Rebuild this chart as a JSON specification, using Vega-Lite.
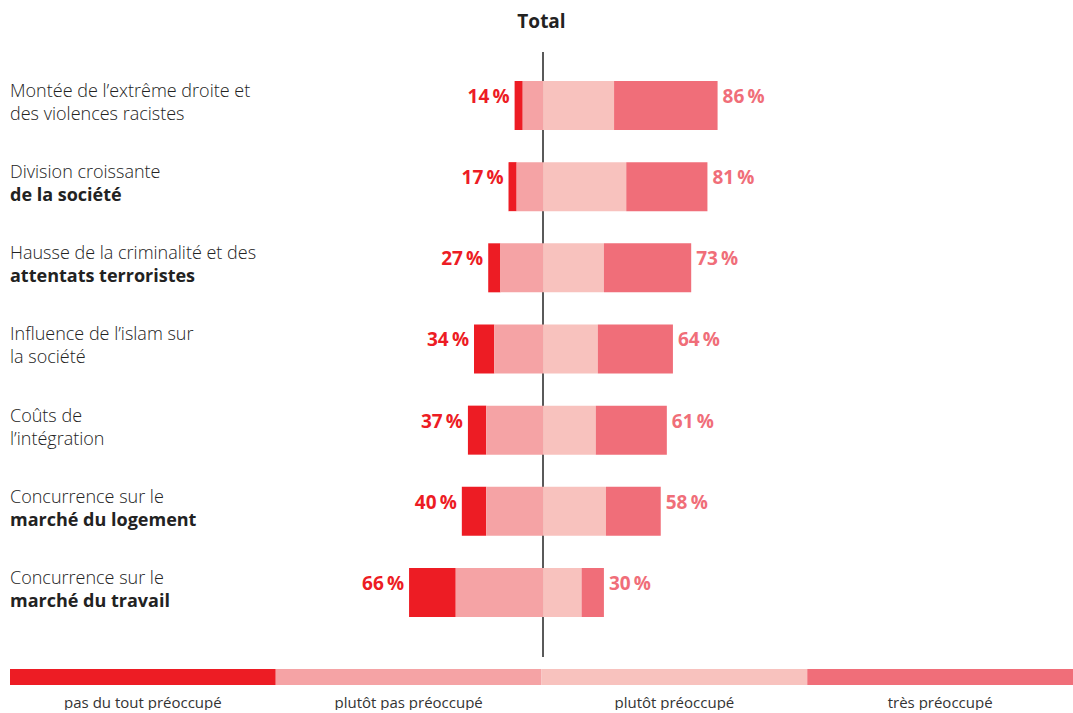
{
  "$schema": "https://vega.github.io/schema/vega-lite/v6.json",
  "padding": {"left": 10, "top": 13, "right": 0, "bottom": 0},
  "background": "white",
  "config": {"view": {"stroke": null}, "font": "Open Sans", "concat": {"spacing": 11}},
  "datasets": {
    "bars": [
      {"item": "droite", "cat": "pas du tout préoccupé", "share": -4},
      {"item": "droite", "cat": "plutôt pas préoccupé", "share": -10},
      {"item": "droite", "cat": "plutôt préoccupé", "share": 35},
      {"item": "droite", "cat": "très préoccupé", "share": 51},
      {"item": "division", "cat": "pas du tout préoccupé", "share": -4},
      {"item": "division", "cat": "plutôt pas préoccupé", "share": -13},
      {"item": "division", "cat": "plutôt préoccupé", "share": 41},
      {"item": "division", "cat": "très préoccupé", "share": 40},
      {"item": "criminalite", "cat": "pas du tout préoccupé", "share": -6},
      {"item": "criminalite", "cat": "plutôt pas préoccupé", "share": -21},
      {"item": "criminalite", "cat": "plutôt préoccupé", "share": 30},
      {"item": "criminalite", "cat": "très préoccupé", "share": 43},
      {"item": "islam", "cat": "pas du tout préoccupé", "share": -10},
      {"item": "islam", "cat": "plutôt pas préoccupé", "share": -24},
      {"item": "islam", "cat": "plutôt préoccupé", "share": 27},
      {"item": "islam", "cat": "très préoccupé", "share": 37},
      {"item": "couts", "cat": "pas du tout préoccupé", "share": -9},
      {"item": "couts", "cat": "plutôt pas préoccupé", "share": -28},
      {"item": "couts", "cat": "plutôt préoccupé", "share": 26},
      {"item": "couts", "cat": "très préoccupé", "share": 35},
      {"item": "logement", "cat": "pas du tout préoccupé", "share": -12},
      {"item": "logement", "cat": "plutôt pas préoccupé", "share": -28},
      {"item": "logement", "cat": "plutôt préoccupé", "share": 31},
      {"item": "logement", "cat": "très préoccupé", "share": 27},
      {"item": "travail", "cat": "pas du tout préoccupé", "share": -23},
      {"item": "travail", "cat": "plutôt pas préoccupé", "share": -43},
      {"item": "travail", "cat": "plutôt préoccupé", "share": 19},
      {"item": "travail", "cat": "très préoccupé", "share": 11}
    ],
    "totals": [
      {"item": "droite", "left": -14, "right": 86, "leftLabel": "14\u2009%", "rightLabel": "86\u2009%"},
      {"item": "division", "left": -17, "right": 81, "leftLabel": "17\u2009%", "rightLabel": "81\u2009%"},
      {"item": "criminalite", "left": -27, "right": 73, "leftLabel": "27\u2009%", "rightLabel": "73\u2009%"},
      {"item": "islam", "left": -34, "right": 64, "leftLabel": "34\u2009%", "rightLabel": "64\u2009%"},
      {"item": "couts", "left": -37, "right": 61, "leftLabel": "37\u2009%", "rightLabel": "61\u2009%"},
      {"item": "logement", "left": -40, "right": 58, "leftLabel": "40\u2009%", "rightLabel": "58\u2009%"},
      {"item": "travail", "left": -66, "right": 30, "leftLabel": "66\u2009%", "rightLabel": "30\u2009%"}
    ],
    "labels": [
      {"item": "droite", "line1": "Montée de l’extrême droite et", "line2": "des violences racistes"},
      {"item": "division", "line1": "Division croissante", "line2": "de la société"},
      {"item": "criminalite", "line1": "Hausse de la criminalité et des", "line2": "attentats terroristes"},
      {"item": "islam", "line1": "Influence de l’islam sur", "line2": "la société"},
      {"item": "couts", "line1": "Coûts de", "line2": "l’intégration"},
      {"item": "logement", "line1": "Concurrence sur le", "line2": "marché du logement"},
      {"item": "travail", "line1": "Concurrence sur le", "line2": "marché du travail"}
    ],
    "legend": [
      {"cat": "pas du tout préoccupé"},
      {"cat": "plutôt pas préoccupé"},
      {"cat": "plutôt préoccupé"},
      {"cat": "très préoccupé"}
    ]
  },
  "vconcat": [
    {
      "width": 1063,
      "height": 605,
      "title": {"text": "Total", "fontSize": 19, "fontWeight": "bold", "color": "#222222", "anchor": "middle", "offset": 19, "font": "Open Sans"},
      "layer": [
        {
          "data": {"name": "labels"},
          "mark": {"type": "rule", "color": "#5a5a5a", "strokeWidth": 1.6},
          "encoding": {
            "x": {"datum": 0, "type": "quantitative", "scale": {"domain": [-262.6, 261.1], "nice": false, "zero": false}, "axis": null}
          }
        },
        {
          "data": {"name": "bars"},
          "transform": [{"filter": "datum.share < 0"}],
          "mark": {"type": "bar"},
          "encoding": {
            "x": {"field": "share", "type": "quantitative", "stack": "zero", "axis": null},
            "y": {"field": "item", "type": "nominal", "axis": null,
                  "scale": {"domain": ["droite", "division", "criminalite", "islam", "couts", "logement", "travail"], "paddingInner": 0.396, "paddingOuter": 0.425, "align": 0.42}},
            "order": {"field": "cat", "sort": "descending"},
            "color": {"field": "cat", "type": "nominal",
                      "scale": {"domain": ["pas du tout préoccupé", "plutôt pas préoccupé", "plutôt préoccupé", "très préoccupé"], "range": ["#ed1c24", "#f5a3a5", "#f8c2be", "#f06e79"]},
                      "legend": null}
          }
        },
        {
          "data": {"name": "bars"},
          "transform": [{"filter": "datum.share > 0"}],
          "mark": {"type": "bar"},
          "encoding": {
            "x": {"field": "share", "type": "quantitative", "stack": "zero", "axis": null},
            "y": {"field": "item", "type": "nominal", "axis": null},
            "order": {"field": "cat", "sort": "ascending"},
            "color": {"field": "cat", "type": "nominal", "legend": null}
          }
        },
        {
          "data": {"name": "totals"},
          "mark": {"type": "text", "align": "right", "baseline": "alphabetic", "dx": -5, "dy": -2.5, "fontSize": 19, "fontWeight": "bold", "color": "#ed1c24"},
          "encoding": {
            "x": {"field": "left", "type": "quantitative"},
            "y": {"field": "item", "type": "nominal"},
            "text": {"field": "leftLabel"}
          }
        },
        {
          "data": {"name": "totals"},
          "mark": {"type": "text", "align": "left", "baseline": "alphabetic", "dx": 5, "dy": -2.5, "fontSize": 19, "fontWeight": "bold", "color": "#f06e79"},
          "encoding": {
            "x": {"field": "right", "type": "quantitative"},
            "y": {"field": "item", "type": "nominal"},
            "text": {"field": "rightLabel"}
          }
        },
        {
          "data": {"name": "labels"},
          "mark": {"type": "text", "align": "left", "baseline": "alphabetic", "dy": -8.5, "fontSize": 18, "fontWeight": 300, "color": "#222222"},
          "encoding": {
            "x": {"datum": -262.6, "type": "quantitative"},
            "y": {"field": "item", "type": "nominal"},
            "text": {"field": "line1"}
          }
        },
        {
          "data": {"name": "labels"},
          "transform": [{"filter": "indexof(['de la société', 'attentats terroristes', 'marché du logement', 'marché du travail'], datum.line2) < 0"}],
          "mark": {"type": "text", "align": "left", "baseline": "alphabetic", "dy": 14.5, "fontSize": 18, "fontWeight": 300, "color": "#222222"},
          "encoding": {
            "x": {"datum": -262.6, "type": "quantitative"},
            "y": {"field": "item", "type": "nominal"},
            "text": {"field": "line2"}
          }
        },
        {
          "data": {"name": "labels"},
          "transform": [{"filter": "indexof(['de la société', 'attentats terroristes', 'marché du logement', 'marché du travail'], datum.line2) >= 0"}],
          "mark": {"type": "text", "align": "left", "baseline": "alphabetic", "dy": 14.5, "fontSize": 18, "fontWeight": "bold", "color": "#222222"},
          "encoding": {
            "x": {"datum": -262.6, "type": "quantitative"},
            "y": {"field": "item", "type": "nominal"},
            "text": {"field": "line2"}
          }
        }
      ]
    },
    {
      "width": 1063,
      "height": 16,
      "data": {"name": "legend"},
      "mark": {"type": "bar"},
      "encoding": {
        "x": {"field": "cat", "type": "nominal",
              "sort": ["pas du tout préoccupé", "plutôt pas préoccupé", "plutôt préoccupé", "très préoccupé"],
              "scale": {"paddingInner": 0, "paddingOuter": 0},
              "axis": {"title": null, "labelAngle": 0, "domain": false, "ticks": false, "labelPadding": 10, "labelFontSize": 15, "labelColor": "#333333", "labelFont": "Open Sans"}},
        "color": {"field": "cat", "type": "nominal",
                  "scale": {"domain": ["pas du tout préoccupé", "plutôt pas préoccupé", "plutôt préoccupé", "très préoccupé"], "range": ["#ed1c24", "#f5a3a5", "#f8c2be", "#f06e79"]},
                  "legend": null}
      }
    }
  ]
}
